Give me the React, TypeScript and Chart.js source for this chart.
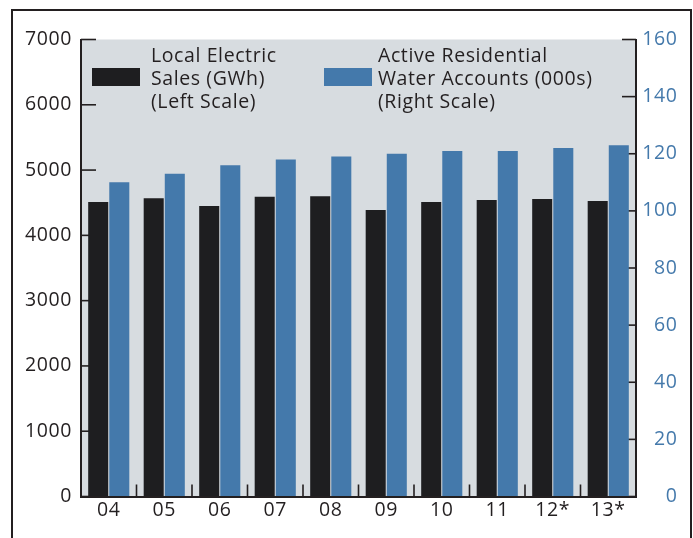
import React, { useEffect, useRef } from "react";
import { Chart, registerables } from "chart.js";

Chart.register(...registerables);

const categories = ["04", "05", "06", "07", "08", "09", "10", "11", "12*", "13*"];
const electricSales = [4510, 4570, 4450, 4590, 4600, 4390, 4510, 4540, 4555, 4525];
const waterAccounts = [110, 113, 116, 118, 119, 120, 121, 121, 122, 123];
const electricLabel = ["Local Electric", "Sales (GWh)", "(Left Scale)"];
const waterLabel = ["Active Residential", "Water Accounts (000s)", "(Right Scale)"];

const FONT = "'Open Sans', sans-serif";
const FSIZE = 19.5;
const SPACING = "0.6px";
const DARK = "#231f20";
const BLACK_BAR = "#1e1e20";
const BLUE = "#4479ab";
const PLOT_BG = "#d7dce0";

const bgPlugin = {
  id: "plotBg",
  beforeDraw(chart: any) {
    const { ctx, chartArea } = chart;
    (ctx as any).letterSpacing = SPACING;
    ctx.save();
    ctx.fillStyle = PLOT_BG;
    ctx.fillRect(chartArea.left, chartArea.top, chartArea.right - chartArea.left, chartArea.bottom - chartArea.top);
    ctx.restore();
  },
};

const innerTicksPlugin = {
  id: "innerTicks",
  beforeDatasetsDraw(chart: any) {
    const { ctx, chartArea, scales } = chart;
    ctx.save();
    ctx.strokeStyle = DARK;
    ctx.lineWidth = 1.6;
    const y = scales.y;
    y.ticks.forEach((t: any) => {
      const py = y.getPixelForValue(t.value);
      ctx.beginPath();
      ctx.moveTo(chartArea.left, py);
      ctx.lineTo(chartArea.left + 15, py);
      ctx.stroke();
    });
    const y1 = scales.y1;
    y1.ticks.forEach((t: any) => {
      const py = y1.getPixelForValue(t.value);
      ctx.beginPath();
      ctx.moveTo(chartArea.right - 14, py);
      ctx.lineTo(chartArea.right, py);
      ctx.stroke();
    });
    const x = scales.x;
    for (let i = 1; i < chart.data.labels.length; i++) {
      const px = (x.getPixelForValue(i - 1) + x.getPixelForValue(i)) / 2;
      ctx.beginPath();
      ctx.moveTo(px, chartArea.bottom);
      ctx.lineTo(px, chartArea.bottom - 12);
      ctx.stroke();
    }
    ctx.restore();
  },
};

// right-axis tick labels, right-aligned at a fixed edge, taken from the y1 scale's own ticks
const rightLabelsPlugin = {
  id: "rightLabels",
  afterDraw(chart: any) {
    const { ctx, chartArea, scales } = chart;
    const y1 = scales.y1;
    ctx.save();
    (ctx as any).letterSpacing = SPACING;
    ctx.font = `${FSIZE}px ${FONT}`;
    ctx.fillStyle = BLUE;
    ctx.textAlign = "right";
    ctx.textBaseline = "middle";
    y1.ticks.forEach((t: any) => {
      ctx.fillText(String(t.value), chartArea.right + 41.5, y1.getPixelForValue(t.value));
    });
    ctx.restore();
  },
};

const legendPlugin = {
  id: "multiLegend",
  afterDatasetsDraw(chart: any) {
    const { ctx, chartArea } = chart;
    const items = [
      { swatchX: 11, textX: 70 },
      { swatchX: 243, textX: 297 },
    ];
    ctx.save();
    (ctx as any).letterSpacing = SPACING;
    ctx.font = `${FSIZE}px ${FONT}`;
    ctx.textBaseline = "alphabetic";
    ctx.textAlign = "left";
    chart.data.datasets.forEach((ds: any, i: number) => {
      const it = items[i];
      ctx.fillStyle = ds.backgroundColor;
      ctx.fillRect(chartArea.left + it.swatchX, chartArea.top + 28.5, 48, 18);
      ctx.fillStyle = DARK;
      (ds.label as string[]).forEach((line, j) => {
        ctx.fillText(line, chartArea.left + it.textX, chartArea.top + 22 + j * 23.3);
      });
    });
    ctx.restore();
  },
};

export default function App() {
  const ref = useRef<HTMLCanvasElement>(null);
  useEffect(() => {
    if (!ref.current) return;
    Chart.defaults.font.family = FONT;
    const plain = (v: any) => String(v);
    const chart = new Chart(ref.current, {
      type: "bar",
      data: {
        labels: categories,
        datasets: [
          {
            label: electricLabel as any,
            data: electricSales,
            backgroundColor: BLACK_BAR,
            yAxisID: "y",
            categoryPercentage: 0.76,
            barPercentage: 0.95,
          },
          {
            label: waterLabel as any,
            data: waterAccounts,
            backgroundColor: BLUE,
            yAxisID: "y1",
            categoryPercentage: 0.76,
            barPercentage: 0.95,
          },
        ],
      },
      options: {
        animation: false,
        responsive: false,
        layout: { padding: { top: 39.5, left: 0, right: 0, bottom: 0 } },
        plugins: { legend: { display: false }, tooltip: { enabled: false } },
        scales: {
          x: {
            grid: { display: true, drawOnChartArea: false, drawTicks: false },
            border: { display: true, color: DARK, width: 2 },
            ticks: { color: DARK, font: { size: FSIZE, family: FONT }, padding: 2, autoSkip: false, maxRotation: 0 },
            afterFit(scale: any) {
              scale.height = 41.5;
            },
          },
          y: {
            position: "left",
            min: 0,
            max: 7000,
            grid: { display: true, drawOnChartArea: false, drawTicks: false },
            border: { display: true, color: DARK, width: 2 },
            ticks: { stepSize: 1000, color: DARK, font: { size: FSIZE, family: FONT }, padding: 9, callback: plain },
            afterFit(scale: any) {
              scale.width = 81;
            },
          },
          y1: {
            position: "right",
            min: 0,
            max: 160,
            grid: { display: true, drawOnChartArea: false, drawTicks: false },
            border: { display: true, color: DARK, width: 2 },
            ticks: { stepSize: 20, display: false, callback: plain },
            afterFit(scale: any) {
              scale.width = 57;
            },
          },
        },
      },
      plugins: [bgPlugin, innerTicksPlugin, legendPlugin, rightLabelsPlugin],
    });
    return () => chart.destroy();
  }, []);

  return (
    <div style={{ position: "fixed", left: 0, top: 0, width: 693, height: 538, overflow: "hidden", background: "#fff" }}>
      <canvas ref={ref} width={693} height={538} style={{ position: "absolute", left: 0, top: 0 }} />
      <div
        style={{
          position: "absolute",
          left: 11,
          top: 9.3,
          width: 680.7,
          height: 600,
          boxSizing: "border-box",
          border: `2.4px solid ${DARK}`,
          pointerEvents: "none",
        }}
      />
    </div>
  );
}
